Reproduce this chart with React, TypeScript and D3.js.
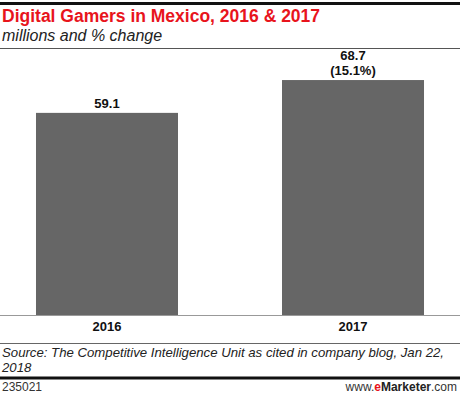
// Digital Gamers in Mexico, 2016 & 2017 — two-bar column chart, eMarketer style.
import { useEffect, useRef } from "react";
import * as d3 from "d3";

const years = ["2016", "2017"];
const gamers = [59.1, 68.7];
const changeLabels = ["", "(15.1%)"];

const W = 460;
const H = 393;

export default function App() {
  const ref = useRef<SVGSVGElement>(null);

  useEffect(() => {
    const svg = d3.select(ref.current!);
    svg.selectAll("*").remove();

    const font = "Arial, 'Liberation Sans', sans-serif";
    const baseY = 315;

    // header rules + titles
    svg.append("rect").attr("x", 0).attr("y", 2).attr("width", W).attr("height", 3).attr("fill", "#111");
    svg.append("text").attr("x", 2).attr("y", 22)
      .attr("font-family", font).attr("font-weight", "bold").attr("font-size", 17.5)
      .attr("fill", "#e8141c").text("Digital Gamers in Mexico, 2016 & 2017");
    svg.append("text").attr("x", 2).attr("y", 41)
      .attr("font-family", font).attr("font-style", "italic").attr("font-size", 16)
      .attr("fill", "#222").text("millions and % change");
    svg.append("line").attr("x1", 0).attr("x2", W).attr("y1", 48.5).attr("y2", 48.5)
      .attr("stroke", "#555").attr("stroke-width", 1);

    const x = d3.scaleBand<string>().domain(years).range([0, W]).paddingInner(0.4228).paddingOuter(0.1463);
    const y = d3.scaleLinear().domain([0, 75]).range([baseY, baseY - 75 * 3.42]);

    const g = svg.append("g");
    g.selectAll("rect.bar")
      .data(years)
      .join("rect")
      .attr("class", "bar")
      .attr("x", (d) => x(d)!)
      .attr("y", (_d, i) => y(gamers[i]))
      .attr("width", x.bandwidth())
      .attr("height", (_d, i) => baseY - y(gamers[i]))
      .attr("fill", "#666666");

    // value labels
    years.forEach((d, i) => {
      const cx = x(d)! + x.bandwidth() / 2;
      const top = y(gamers[i]);
      const t = g.append("text").attr("text-anchor", "middle")
        .attr("font-family", font).attr("font-weight", "bold").attr("font-size", 13).attr("fill", "#111");
      if (changeLabels[i]) {
        t.append("tspan").attr("x", cx).attr("y", top - 20).text(gamers[i].toFixed(1));
        t.append("tspan").attr("x", cx).attr("y", top - 5).text(changeLabels[i]);
      } else {
        t.attr("x", cx).attr("y", top - 5).text(gamers[i].toFixed(1));
      }
    });

    // baseline + x axis labels
    svg.append("line").attr("x1", 0).attr("x2", W).attr("y1", baseY + 0.5).attr("y2", baseY + 0.5)
      .attr("stroke", "#999").attr("stroke-width", 1);
    const ax = svg.append("g").attr("transform", `translate(0,${baseY})`)
      .call(d3.axisBottom(x).tickSize(0).tickPadding(7));
    ax.select(".domain").remove();
    ax.selectAll("text").attr("font-family", font).attr("font-weight", "bold")
      .attr("font-size", 13).attr("fill", "#111");

    // source
    svg.append("line").attr("x1", 0).attr("x2", W).attr("y1", 343.5).attr("y2", 343.5)
      .attr("stroke", "#666").attr("stroke-width", 1);
    const src = svg.append("text").attr("font-family", font).attr("font-style", "italic")
      .attr("font-size", 13.2).attr("fill", "#222");
    src.append("tspan").attr("x", 2).attr("y", 357)
      .text("Source: The Competitive Intelligence Unit as cited in company blog, Jan 22,");
    src.append("tspan").attr("x", 2).attr("y", 371.5).text("2018");
    svg.append("rect").attr("x", 0).attr("y", 376.5).attr("width", W).attr("height", 3).attr("fill", "#111");

    // footer
    svg.append("text").attr("x", 2).attr("y", 391).attr("font-family", font)
      .attr("font-size", 12).attr("fill", "#333").text("235021");
    const ft = svg.append("text").attr("x", W - 3).attr("y", 391).attr("text-anchor", "end")
      .attr("font-family", font).attr("font-size", 12).attr("fill", "#333");
    ft.append("tspan").text("www.");
    ft.append("tspan").attr("fill", "#e8141c").attr("font-weight", "bold").text("e");
    ft.append("tspan").attr("font-weight", "bold").attr("fill", "#222").text("Marketer");
    ft.append("tspan").text(".com");
  }, []);

  return (
    <svg
      ref={ref}
      width={W}
      height={H}
      viewBox={`0 0 ${W} ${H}`}
      style={{ position: "absolute", left: 0, top: 0, background: "#fff" }}
    />
  );
}
